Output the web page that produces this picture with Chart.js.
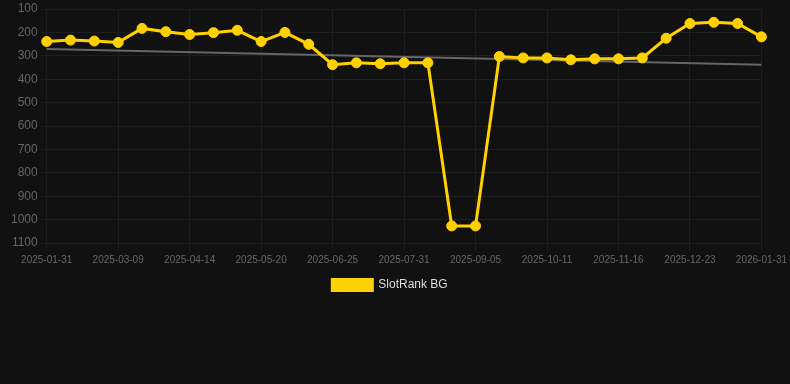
<!DOCTYPE html>
<html>
<head>
<meta charset="utf-8">
<script src="https://cdn.jsdelivr.net/npm/chart.js@4"></script>
<style>
    html, body {
        margin: 0;
        padding: 0;
        background: #111111;
    }
    #wrap {
        position: relative;
        width: 790px;
        height: 301px;
    }
</style>
</head>
<body>
<div id="wrap"><canvas id="rankChart"></canvas></div>
<script>
// dates of each rank reading
const dates = [
    "2025-01-31", "2025-02-12", "2025-02-25", "2025-03-09", "2025-03-21", "2025-04-02",
    "2025-04-14", "2025-04-26", "2025-05-08", "2025-05-20", "2025-06-01", "2025-06-13",
    "2025-06-25", "2025-07-07", "2025-07-19", "2025-07-31", "2025-08-12", "2025-08-24",
    "2025-09-05", "2025-09-17", "2025-09-29", "2025-10-11", "2025-10-23", "2025-11-04",
    "2025-11-16", "2025-11-28", "2025-12-11", "2025-12-23", "2026-01-05", "2026-01-18",
    "2026-01-31"
];

const rankValues = [
    239, 233, 237, 243, 183, 197, 209, 201, 191, 239, 200, 251,
    338, 330, 334, 330, 330, 1027, 1027, 303, 309, 309, 317, 313,
    313, 309, 225, 162, 157, 162, 219
];

// trend line, start and end only
const trendStart = 271;
const trendEnd = 338;

const yTicks = [100, 200, 300, 400, 500, 600, 700, 800, 900, 1000, 1100];

const trendValues = dates.map((d, i) => {
    if (i === 0) return trendStart;
    if (i === dates.length - 1) return trendEnd;
    return null;
});

const ctx = document.getElementById("rankChart").getContext("2d");

new Chart(ctx, {
    type: "line",
    data: {
        labels: dates,
        datasets: [
            {
                label: "SlotRank BG",
                data: rankValues,
                borderColor: "#ffd100",
                backgroundColor: "#ffd100",
                borderWidth: 3,
                pointRadius: 5,
                pointHoverRadius: 5,
                pointBorderWidth: 1,
                pointBackgroundColor: "#ffd100",
                pointBorderColor: "#ffd100",
                tension: 0
            },
            {
                label: "Trend",
                data: trendValues,
                borderColor: "#666666",
                borderWidth: 2,
                pointRadius: 0,
                spanGaps: true,
                tension: 0
            }
        ]
    },
    options: {
        responsive: true,
        maintainAspectRatio: false,
        animation: false,
        layout: {
            padding: { left: 8, right: 18, top: 0, bottom: 0 }
        },
        plugins: {
            legend: {
                display: true,
                position: "bottom",
                labels: {
                    color: "#dddddd",
                    font: { family: "Liberation Sans, Arial, sans-serif", size: 12 },
                    boxWidth: 40,
                    boxHeight: 11,
                    filter: item => item.text !== "Trend"
                }
            },
            tooltip: { enabled: false }
        },
        scales: {
            x: {
                grid: { color: "#1e1e1e" },
                border: { color: "#1e1e1e" },
                ticks: {
                    color: "#666666",
                    font: { family: "Liberation Sans, Arial, sans-serif", size: 10 },
                    maxRotation: 0,
                    autoSkip: true,
                    maxTicksLimit: 11
                }
            },
            y: {
                reverse: true,
                min: 100,
                max: 1100,
                afterBuildTicks: axis => {
                    axis.ticks = yTicks.map(v => ({ value: v }));
                },
                grid: { color: "#1e1e1e", tickLength: 6 },
                border: { color: "#1e1e1e" },
                ticks: {
                    color: "#666666",
                    font: { family: "Liberation Sans, Arial, sans-serif", size: 12, lineHeight: 1 },
                    padding: 3,
                    callback: value => String(value)
                }
            }
        }
    }
});
</script>
</body>
</html>
